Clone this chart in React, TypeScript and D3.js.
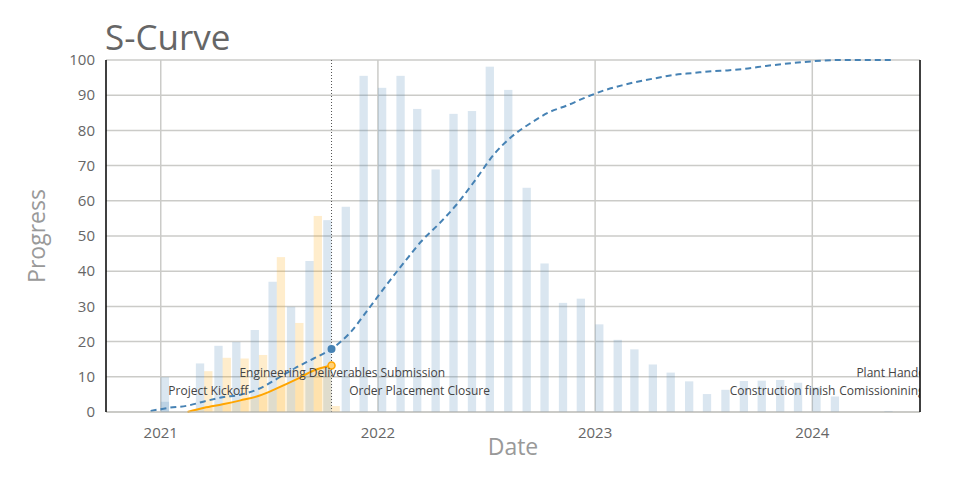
import React from "react";
import * as d3 from "d3";

// ---- data ----
// monthly bars, starting Jan 2021
const barStartYear = 2021;
const plannedMonthly = [
  9.9, 0, 13.8, 18.8, 19.9, 23.3, 37.0, 29.9, 42.9, 54.5, 58.3, 95.5,
  92.1, 95.5, 86.1, 68.9, 84.7, 85.5, 98.1, 91.5, 63.7, 42.2, 31.0, 32.2,
  24.9, 20.5, 17.8, 13.5, 11.2, 8.7, 5.1, 6.3, 8.8, 8.9, 9.1, 8.3,
  7.0, 4.4, 0, 0, 0.3,
];
const plannedOverlap = [2.9]; // second planned bar drawn in Jan 2021
const actualMonthly = [0, 0, 11.6, 15.4, 15.2, 16.2, 44.0, 25.3, 55.7, 1.7];

// cumulative curves, mid-month points; planned starts Dec 2020
const plannedCumStart = { year: 2020, month: 11 };
const plannedCum = [
  0.3, 1.2, 1.8, 3.0, 4.2, 4.9, 6.6, 9.4, 12.5, 15.2, 17.9, 22.5, 29.0,
  36.0, 42.7, 48.5, 53.7, 59.3, 66.2, 73.2, 78.4, 82.1, 85.1, 87.1, 89.3,
  91.3, 92.8, 93.9, 94.9, 95.8, 96.3, 96.8, 97.1, 97.6, 98.3, 98.9, 99.4,
  99.8, 100, 100, 100, 100,
];
const actualCumStart = { year: 2021, month: 1 };
const actualCum = [0, 1.2, 2.2, 3.3, 4.6, 6.7, 9.1, 11.8, 13.2];

const todayDate = [2021, 9, 15];

const milestoneNames = [
  "Project Kickoff",
  "Engineering Deliverables Submission",
  "Order Placement Closure",
  "Construction finish",
  "Comissionining",
  "Plant Handover",
];
const milestoneDates = [
  [2021, 2, 22],
  [2021, 10, 2],
  [2022, 2, 12],
  [2023, 10, 12],
  [2024, 3, 27],
  [2024, 4, 27],
];
const milestoneLevels = [6, 11, 6, 6, 6, 11];

const yTicks = [0, 10, 20, 30, 40, 50, 60, 70, 80, 90, 100];
const xTickYears = [2021, 2022, 2023, 2024];

const FONT = "'Open Sans', 'Noto Sans', sans-serif";

export default function App() {
  const width = 960;
  const height = 500;
  const left = 106, right = 920, top = 60, bottom = 412;

  const x = d3
    .scaleUtc()
    .domain([new Date(Date.UTC(2020, 9, 1)), new Date(Date.UTC(2024, 5, 30))])
    .range([left, right]);
  const y = d3.scaleLinear().domain([0, 100]).range([bottom, top]);

  const monthPx = x(new Date(Date.UTC(2021, 1, 1))) - x(new Date(Date.UTC(2021, 0, 1)));
  const bw = monthPx * 0.45;
  const mid = (yr: number, m: number) => x(new Date(Date.UTC(yr, m, 15)));

  const plannedPts = plannedCum.map((v, i) => ({
    d: new Date(Date.UTC(plannedCumStart.year, plannedCumStart.month + i, 15)),
    v,
  }));
  const actualPts = actualCum.map((v, i) => ({
    d: new Date(Date.UTC(actualCumStart.year, actualCumStart.month + i, 15)),
    v,
  }));

  const line = d3
    .line<{ d: Date; v: number }>()
    .x((p) => x(p.d))
    .y((p) => y(p.v))
    .curve(d3.curveMonotoneX);
  const area = d3
    .area<{ d: Date; v: number }>()
    .x((p) => x(p.d))
    .y0(y(0))
    .y1((p) => y(p.v))
    .curve(d3.curveMonotoneX);

  const today = new Date(Date.UTC(todayDate[0], todayDate[1], todayDate[2]));
  const todayX = x(today);
  const lastPlanned = plannedPts.find((p) => +p.d === +today);
  const lastActual = actualPts[actualPts.length - 1];

  return (
    <svg
      width={width}
      height={height}
      style={{ position: "absolute", left: 0, top: 0, background: "#fff" }}
      fontFamily={FONT}
    >
      <defs>
        <clipPath id="plotclip">
          <rect x={left} y={top - 2} width={right - left} height={bottom - top + 4} />
        </clipPath>
      </defs>

      {/* grid */}
      {yTicks.map((t) => (
        <line key={"gy" + t} x1={left} x2={right} y1={y(t)} y2={y(t)} stroke="#cbcbc8" strokeWidth={1.5} />
      ))}
      {xTickYears.map((yr) => {
        const xx = x(new Date(Date.UTC(yr, 0, 1)));
        return <line key={"gx" + yr} x1={xx} x2={xx} y1={top} y2={bottom} stroke="#cbcbc8" strokeWidth={1.5} />;
      })}

      <g clipPath="url(#plotclip)">
        {/* planned bars */}
        {plannedMonthly.map((v, i) => {
          const yr = barStartYear + Math.floor(i / 12);
          const m = i % 12;
          const c = mid(yr, m);
          return v > 0 ? (
            <rect key={"pb" + i} x={c - bw} y={y(v)} width={bw} height={y(0) - y(v)} fill="#4682b4" fillOpacity={0.2} />
          ) : null;
        })}
        {plannedOverlap.map((v, i) => {
          const c = mid(barStartYear, i);
          return <rect key={"po" + i} x={c - bw} y={y(v)} width={bw} height={y(0) - y(v)} fill="#4682b4" fillOpacity={0.2} />;
        })}
        {/* actual bars */}
        {actualMonthly.map((v, i) => {
          const yr = barStartYear + Math.floor(i / 12);
          const m = i % 12;
          const c = mid(yr, m);
          return v > 0 ? (
            <rect key={"ab" + i} x={c} y={y(v)} width={bw} height={y(0) - y(v)} fill="#ffa500" fillOpacity={0.2} />
          ) : null;
        })}

        {/* actual area + line */}
        <path d={area(actualPts) || ""} fill="#ffa500" fillOpacity={0.15} />
        <path d={line(plannedPts) || ""} fill="none" stroke="#4682b4" strokeWidth={2} strokeDasharray="6,4" />
        <path d={line(actualPts) || ""} fill="none" stroke="#ffa500" strokeWidth={2} />

        {/* today line */}
        <line x1={todayX} x2={todayX} y1={top} y2={bottom} stroke="#555" strokeWidth={1} strokeDasharray="1,2" />
        {lastPlanned && <circle cx={x(lastPlanned.d)} cy={y(lastPlanned.v)} r={4} fill="#4682b4" />}
        <circle cx={x(lastActual.d)} cy={y(lastActual.v)} r={3.5} fill="#ffd27a" stroke="#ffa500" strokeWidth={1.5} />

        {/* milestone annotations */}
        {milestoneNames.map((name, i) => {
          const [yy, mm, dd] = milestoneDates[i];
          return (
            <text
              key={"ms" + i}
              x={x(new Date(Date.UTC(yy, mm, dd)))}
              y={y(milestoneLevels[i])}
              dy="0.35em"
              textAnchor="middle"
              fontSize={12}
              fill="#444"
            >
              {name}
            </text>
          );
        })}
      </g>

      {/* axes lines */}
      <line x1={left} x2={right} y1={bottom} y2={bottom} stroke="#bdbdb8" strokeWidth={1} />
      <line x1={left} x2={left} y1={top} y2={bottom} stroke="#000" strokeWidth={1.5} />
      <line x1={right} x2={right} y1={top} y2={bottom} stroke="#000" strokeWidth={1.5} />

      {/* y tick labels */}
      {yTicks.map((t) => (
        <text key={"yt" + t} x={95} y={y(t)} dy="0.35em" textAnchor="end" fontSize={15} fill="#666">
          {t}
        </text>
      ))}
      {/* x tick labels */}
      {xTickYears.map((yr) => (
        <text key={"xt" + yr} x={x(new Date(Date.UTC(yr, 0, 1)))} y={438} textAnchor="middle" fontSize={15} fill="#666">
          {yr}
        </text>
      ))}

      {/* titles */}
      <text x={105} y={50} fontSize={35} fill="#666">
        S-Curve
      </text>
      <text x={(left + right) / 2} y={455} textAnchor="middle" fontSize={23} fill="#999">
        Date
      </text>
      <text transform={`translate(45, ${(top + bottom) / 2}) rotate(-90)`} textAnchor="middle" fontSize={23} fill="#999">
        Progress
      </text>
    </svg>
  );
}
